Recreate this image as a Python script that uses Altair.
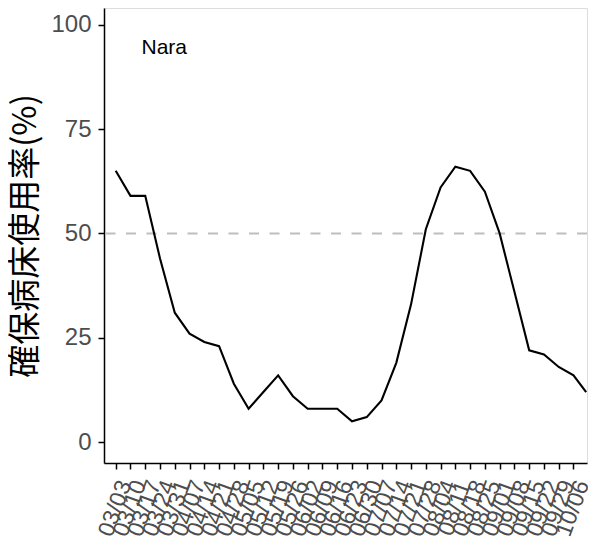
import altair as alt
import pandas as pd

# ---- data ----
year = 2022
dates = ["03/03", "03/10", "03/17", "03/24", "03/31", "04/07", "04/14", "04/21",
         "04/28", "05/05", "05/12", "05/19", "05/26", "06/02", "06/09", "06/16",
         "06/23", "06/30", "07/07", "07/14", "07/21", "07/28", "08/04", "08/11",
         "08/18", "08/25", "09/01", "09/08", "09/15", "09/22", "09/29", "10/06",
         "10/12"]
values = [65, 59, 59, 44, 31, 26, 24, 23, 14, 8, 12, 16, 11, 8, 8, 8,
          5, 6, 10, 19, 33, 51, 61, 66, 65, 60, 50, 36, 22, 21, 18, 16, 12]
tick_labels = ["03/03", "03/10", "03/17", "03/24", "03/31", "04/07", "04/14", "04/21",
               "04/28", "05/05", "05/12", "05/19", "05/26", "06/02", "06/09", "06/16",
               "06/23", "06/30", "07/07", "07/14", "07/21", "07/28", "08/04", "08/11",
               "08/18", "08/25", "09/01", "09/08", "09/15", "09/22", "09/29", "10/06"]
y_ticks = [0, 25, 50, 75, 100]
threshold = [50]
panel_label = "Nara"
y_title = "確保病床使用率(%)"

start = pd.Timestamp(f"{year}-03-03")
def to_day(s):
    m, d = s.split("/")
    return (pd.Timestamp(year=year, month=int(m), day=int(d)) - start).days

df = pd.DataFrame({"day": [to_day(d) for d in dates], "rate": values})
tick_days = [to_day(t) for t in tick_labels]
label_expr = "[" + ",".join(f"'{t}'" for t in tick_labels) + "][round(datum.value / 7)]"

x_scale = alt.Scale(domain=[-5.55, 223.4], nice=False, zero=False)
y_scale = alt.Scale(domain=[-5, 104], nice=False, zero=False)

x_axis = alt.Axis(
    values=tick_days, tickCount=100, labelExpr=label_expr, title=None,
    labelAngle=290, labelAlign="center", labelBaseline="middle",
    labelPadding=39, labelOffset=-1, labelFontSize=23, labelColor="#4D4D4D",
    labelFont="Liberation Sans", labelOverlap=False, labelFlush=False,
    labelBound=False, tickSize=6, tickWidth=1.5, tickColor="black",
    domainColor="black", domainWidth=1.5, grid=False,
)
y_axis = alt.Axis(
    values=y_ticks, title=y_title, labelFontSize=24, labelColor="#4D4D4D",
    labelFont="Liberation Sans", labelPadding=7, tickSize=6, tickWidth=1.5,
    tickColor="black", domainColor="black", domainWidth=1.5, grid=False,
    titleFont="Noto Sans CJK JP", titleFontSize=33, titleFontWeight="normal",
    titleColor="black", titleAngle=270, titleAlign="center",
    titleBaseline="middle", titleX=-79, titleY=227.5,
)

base = alt.Chart(df)

rule = alt.Chart(pd.DataFrame({"y": threshold})).mark_rule(
    color="#BEBEBE", strokeWidth=2, strokeDash=[10, 10.5]
).encode(y=alt.Y("y:Q", scale=y_scale, axis=y_axis))

line = base.mark_line(color="black", strokeWidth=2.1, clip=True).encode(
    x=alt.X("day:Q", scale=x_scale, axis=x_axis),
    y=alt.Y("rate:Q", scale=y_scale, axis=y_axis),
)

label = alt.Chart(pd.DataFrame({"day": [23], "rate": [94.5], "t": [panel_label]})).mark_text(
    font="Liberation Sans", fontSize=21, color="black", align="center", baseline="middle"
).encode(
    x=alt.X("day:Q", scale=x_scale),
    y=alt.Y("rate:Q", scale=y_scale),
    text="t:N",
)

chart = alt.layer(rule, line, label).properties(
    width=483, height=455,
    autosize=alt.AutoSizeParams(type="none"),
    padding={"left": 96, "top": 0, "right": 1, "bottom": 78},
).configure_view(stroke=None).configure(background="white")

chart.save("out.html", embed_options={"renderer": "svg", "actions": False})
